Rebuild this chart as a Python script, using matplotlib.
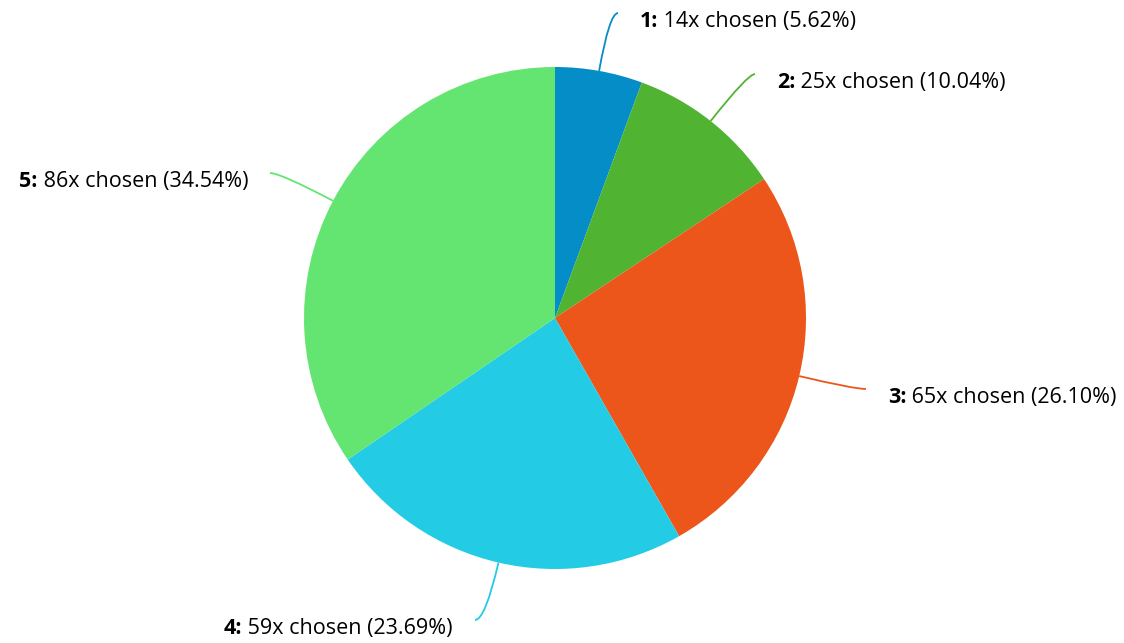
import matplotlib.pyplot as plt
from matplotlib.path import Path
from matplotlib.patches import PathPatch
import numpy as np

plt.rcParams['font.family'] = ['Open Sans', 'DejaVu Sans']

options = ["1", "2", "3", "4", "5"]
counts = [14, 25, 65, 59, 86]
percents = [5.62, 10.04, 26.10, 23.69, 34.54]
colors = ['#058DC7', '#50B432', '#ED561B', '#24CBE5', '#64E572']

# where each connector ends (pixel coords, y down)
label_ends = [(618, 13), (755, 74), (866, 389), (475, 620), (270, 173)]

W, H = 1124, 643
fig = plt.figure(figsize=(W / 100, H / 100), dpi=100)
ax = fig.add_axes([0, 0, 1, 1])

cx, cy, r = 555, 318, 251
# y axis is flipped, so ccw in data = clockwise on screen, -90 = top
wedges, _ = ax.pie(counts, colors=colors, startangle=-90, counterclock=True,
                   center=(cx, cy), radius=r, frame=True,
                   wedgeprops=dict(linewidth=0))
ax.set_xlim(0, W)
ax.set_ylim(H, 0)
ax.axis('off')

fs = 15.5
for w, opt, n, p, (ex, ey), col in zip(wedges, options, counts, percents, label_ends, colors):
    th = np.deg2rad((w.theta1 + w.theta2) / 2)
    dx, dy = np.cos(th), np.sin(th)
    sx, sy = cx + r * dx, cy + r * dy
    # control point: radial line meets horizontal line through end
    t = (ey - sy) / dy
    ctrl = (sx + t * dx, ey)
    path = Path([(sx, sy), ctrl, (ex, ey)], [Path.MOVETO, Path.CURVE3, Path.CURVE3])
    ax.add_patch(PathPatch(path, fill=False, edgecolor=col, lw=1.3))

    ty = ey + 8.5
    rest = " %dx chosen (%.2f%%)" % (n, p)
    if ex > cx:
        b = ax.text(ex + 22, ty, opt + ":", fontsize=fs, fontweight='bold',
                    ha='left', va='center', color='black')
        ax.annotate(rest, xy=(1, 0.5), xycoords=b, fontsize=fs,
                    ha='left', va='center', color='black')
    else:
        t2 = ax.text(ex - 22, ty, rest, fontsize=fs, ha='right', va='center',
                     color='black')
        ax.annotate(opt + ":", xy=(0, 0.5), xycoords=t2, fontsize=fs,
                    fontweight='bold', ha='right', va='center', color='black')

fig.savefig("out.png", dpi=100)
